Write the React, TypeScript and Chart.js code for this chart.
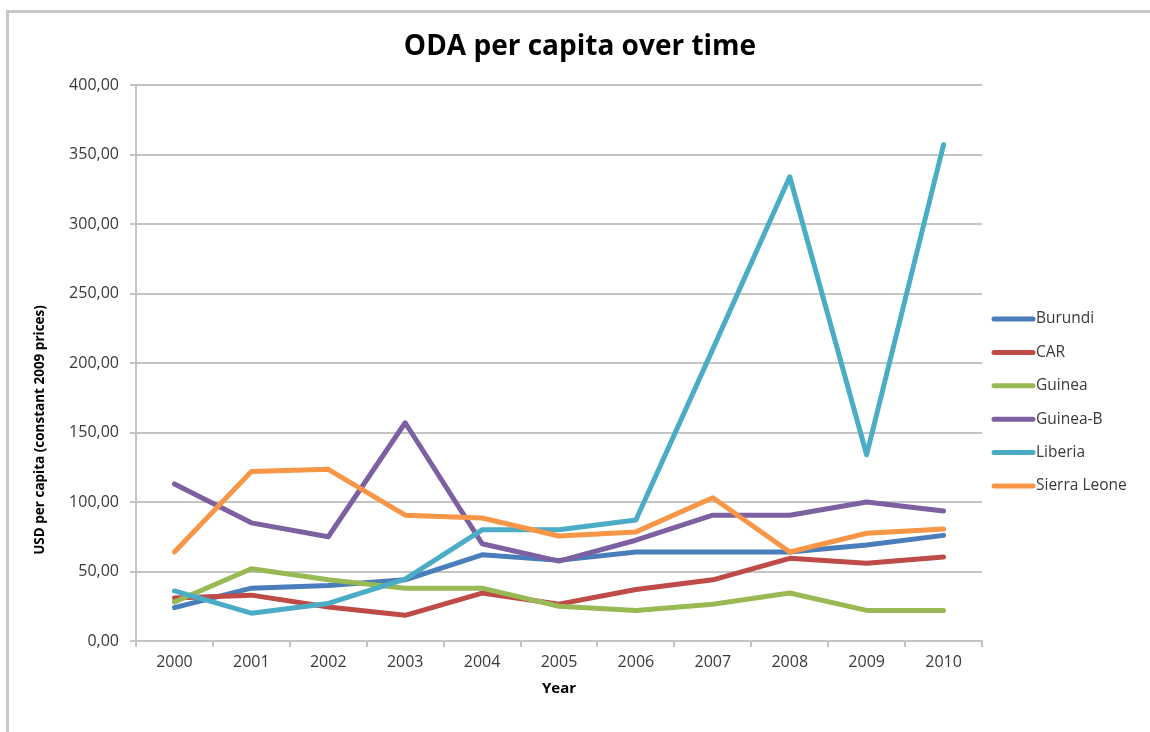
import React, { useEffect, useRef } from 'react';
import { Chart, registerables } from 'chart.js';

Chart.register(...registerables);

// ---- data ----
const years = ['2000', '2001', '2002', '2003', '2004', '2005', '2006', '2007', '2008', '2009', '2010'];
const seriesNames = ['Burundi', 'CAR', 'Guinea', 'Guinea-B', 'Liberia', 'Sierra Leone'];
const burundi = [24, 38, 40, 44, 62, 58, 64, 64, 64, 69, 76];
const car = [31, 33, 24.5, 18.5, 34.5, 26.5, 37, 44, 59.5, 56, 60.5];
const guinea = [28, 52, 44, 38, 38, 25, 22, 26.5, 34.5, 22, 22];
const guineaB = [113, 85, 75, 157, 70, 57.5, 72.5, 90.5, 90.5, 100, 93.5];
const liberia = [36, 20, 27, 44.5, 80, 80, 87, 210, 334, 134, 357];
const sierraLeone = [64, 122, 123.5, 90.5, 88.5, 75.5, 78.5, 103, 64, 77.5, 80.5];
const seriesValues = [burundi, car, guinea, guineaB, liberia, sierraLeone];
const seriesColors = ['#4A7EBB', '#BE4B48', '#98B954', '#7D60A0', '#4BACC6', '#F79646'];

const chartTitle = 'ODA per capita over time';
const yAxisTitle = 'USD per capita (constant 2009 prices)';
const xAxisTitle = 'Year';
const yMin = 0;
const yMax = 400;
const yStep = 50;

// ---- layout / style ----
const W = 1150;
const H = 732;
const FONT = "'Open Sans', 'DejaVu Sans', sans-serif";
const GRID = '#c4c4c4';
const TEXT = '#3a3a3a';

const overlayPlugin = {
  id: 'overlay',
  afterDraw(chart: any) {
    const ctx = chart.ctx as CanvasRenderingContext2D;
    ctx.save();
    // title
    ctx.fillStyle = '#000';
    ctx.font = `bold 28px ${FONT}`;
    ctx.textAlign = 'center';
    ctx.textBaseline = 'middle';
    ctx.fillText(chartTitle, 580, 47);
    // y axis title
    ctx.save();
    ctx.translate(40, 430);
    ctx.rotate(-Math.PI / 2);
    ctx.font = `bold 13.5px ${FONT}`;
    ctx.fillText(yAxisTitle, 0, 0);
    ctx.restore();
    // legend
    const ds = chart.data.datasets;
    const startY = 319;
    const gap = 33.4;
    ds.forEach((d: any, i: number) => {
      const y = startY + gap * i;
      ctx.strokeStyle = d.borderColor;
      ctx.lineWidth = 5;
      ctx.lineCap = 'round';
      ctx.beginPath();
      ctx.moveTo(994, y);
      ctx.lineTo(1033, y);
      ctx.stroke();
      ctx.fillStyle = TEXT;
      ctx.font = `15.5px ${FONT}`;
      ctx.textAlign = 'left';
      ctx.textBaseline = 'middle';
      ctx.fillText(d.label, 1036, y);
    });
    ctx.restore();
  },
};

export default function App() {
  const ref = useRef<HTMLCanvasElement | null>(null);

  useEffect(() => {
    if (!ref.current) return;
    const chart = new Chart(ref.current, {
      type: 'line',
      data: {
        labels: years,
        datasets: seriesNames.map((name, i) => ({
          label: name,
          data: seriesValues[i],
          borderColor: seriesColors[i],
          backgroundColor: seriesColors[i],
          borderWidth: 5,
          borderCapStyle: 'round',
          borderJoinStyle: 'round',
          pointRadius: 0,
          pointHoverRadius: 0,
          tension: 0,
          fill: false,
          order: seriesNames.length - i,
        })),
      },
      options: {
        animation: false,
        responsive: false,
        maintainAspectRatio: false,
        events: [],
        layout: { padding: { top: 85, right: 168, left: 0, bottom: 0 } },
        plugins: {
          legend: { display: false },
          title: { display: false },
          tooltip: { enabled: false },
        },
        scales: {
          x: {
            type: 'category',
            offset: true,
            afterFit: (s: any) => {
              s.height = 91;
            },
            grid: {
              offset: true,
              drawOnChartArea: false,
              drawTicks: true,
              tickLength: 6,
              color: GRID,
              lineWidth: 2,
            },
            border: { color: GRID, width: 2 },
            ticks: {
              color: TEXT,
              font: { family: FONT, size: 16 },
              padding: 6,
              maxRotation: 0,
              autoSkip: false,
            },
            title: {
              display: true,
              text: xAxisTitle,
              color: '#000',
              font: { family: FONT, size: 15, weight: 'bold' },
              padding: { top: 0, bottom: 34 },
            },
          },
          y: {
            min: yMin,
            max: yMax,
            afterFit: (s: any) => {
              s.width = 136;
            },
            grid: {
              color: GRID,
              lineWidth: 2,
              drawTicks: true,
              tickLength: 6,
            },
            border: { color: GRID, width: 2 },
            ticks: {
              stepSize: yStep,
              color: TEXT,
              font: { family: FONT, size: 16 },
              padding: 11,
              callback: (v: any) => Number(v).toFixed(2).replace('.', ','),
            },
          },
        },
      },
      plugins: [overlayPlugin],
    } as any);
    return () => chart.destroy();
  }, []);

  return (
    <div style={{ position: 'fixed', left: 0, top: 0, width: W, height: H, background: '#fff', overflow: 'hidden' }}>
      <div
        style={{
          position: 'absolute',
          left: 6,
          top: 10,
          width: W,
          height: H,
          borderTop: '3px solid #c8c8c8',
          borderLeft: '3px solid #c8c8c8',
          boxSizing: 'border-box',
        }}
      />
      <canvas ref={ref} width={W} height={H} style={{ position: 'absolute', left: 0, top: 0, width: W, height: H }} />
    </div>
  );
}
